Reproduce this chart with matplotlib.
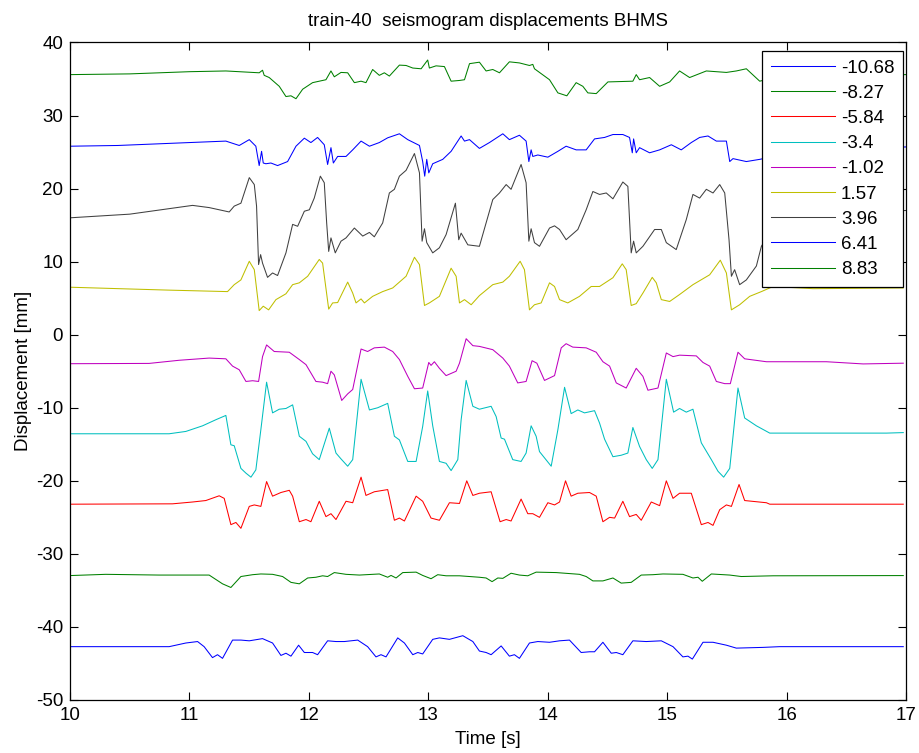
import matplotlib
matplotlib.use("Agg")
import matplotlib.pyplot as plt

plt.rcParams["font.family"] = ["Liberation Sans", "DejaVu Sans"]
plt.rcParams["axes.unicode_minus"] = False

# station positions (legend labels) and MATLAB default colour order
labels = ["-10.68", "-8.27", "-5.84", "-3.4", "-1.02", "1.57", "3.96", "6.41", "8.83"]
colors = [(0, 0, 1), (0, 0.5, 0), (1, 0, 0), (0, 0.75, 0.75), (0.75, 0, 0.75),
          (0.75, 0.75, 0), (0.25, 0.25, 0.25), (0, 0, 1), (0, 0.5, 0)]

# trace -10.68 (blue, bottom)
t_n1068 = [10.0, 10.83, 10.97, 11.068, 11.123, 11.193, 11.235, 11.277, 11.361, 11.431, 11.501,
           11.612, 11.696, 11.766, 11.808, 11.85, 11.914, 11.962, 12.031, 12.073, 12.157, 12.227,
           12.297, 12.409, 12.492, 12.562, 12.604, 12.646, 12.744, 12.8, 12.87, 12.912, 12.953,
           13.037, 13.093, 13.177, 13.289, 13.373, 13.428, 13.484, 13.526, 13.61, 13.679, 13.721,
           13.763, 13.847, 13.917, 14.015, 14.099, 14.182, 14.28, 14.35, 14.392, 14.462, 14.532,
           14.574, 14.629, 14.713, 14.825, 14.951, 15.049, 15.132, 15.174, 15.211, 15.3, 15.384,
           15.496, 15.579, 15.803, 15.943, 16.977]
d_n1068 = [-42.7, -42.7, -42.2, -42.0, -42.7, -44.2, -43.8, -44.3, -41.8, -41.8, -41.9,
           -41.6, -42.2, -43.9, -43.6, -44.0, -42.5, -43.5, -43.5, -43.8, -41.9, -42.0,
           -42.0, -41.8, -42.7, -44.1, -43.8, -44.1, -41.5, -42.2, -43.8, -43.5, -43.7,
           -41.7, -41.5, -41.7, -41.2, -42.0, -43.3, -43.5, -43.8, -42.6, -44.0, -43.8,
           -44.3, -42.2, -42.0, -42.1, -41.9, -41.8, -43.5, -43.4, -43.4, -42.1, -43.6,
           -43.5, -43.8, -41.9, -42.0, -41.9, -42.7, -44.1, -44.0, -44.4, -42.1, -42.1,
           -42.5, -42.9, -42.8, -42.7, -42.7]

# trace -8.27 (green)
t_n827 = [10.0, 10.299, 10.746, 11.165, 11.221, 11.277, 11.347, 11.431, 11.529, 11.598, 11.696,
          11.78, 11.85, 11.92, 11.99, 12.059, 12.115, 12.157, 12.213, 12.311, 12.423, 12.59,
          12.66, 12.688, 12.73, 12.786, 12.898, 12.953, 13.023, 13.079, 13.149, 13.261, 13.428,
          13.484, 13.534, 13.582, 13.624, 13.693, 13.763, 13.833, 13.903, 14.071, 14.266, 14.322,
          14.378, 14.462, 14.546, 14.615, 14.699, 14.783, 14.881, 14.965, 15.132, 15.216, 15.258,
          15.294, 15.37, 15.524, 15.621, 15.887, 16.977]
d_n827 = [-32.97, -32.8, -32.9, -32.9, -33.5, -34.1, -34.6, -33.1, -32.85, -32.75, -32.8,
          -33.1, -33.9, -34.1, -33.3, -33.2, -33.0, -33.1, -32.56, -32.8, -32.9, -32.75,
          -33.2, -32.95, -33.3, -32.56, -32.5, -32.95, -33.4, -32.85, -33.0, -33.0, -33.2,
          -33.3, -33.8, -33.3, -33.35, -32.65, -32.9, -33.0, -32.5, -32.56, -32.8, -33.1,
          -33.7, -33.7, -33.3, -34.0, -33.9, -32.9, -32.85, -32.75, -32.8, -33.3, -33.2,
          -33.75, -32.75, -32.9, -33.1, -33.0, -32.97]

# trace -5.84 (red)
t_n584 = [10.0, 10.858, 11.026, 11.137, 11.249, 11.291, 11.347, 11.389, 11.431, 11.501, 11.543,
          11.598, 11.646, 11.696, 11.766, 11.836, 11.864, 11.92, 11.976, 12.017, 12.087, 12.143,
          12.185, 12.227, 12.311, 12.367, 12.437, 12.478, 12.548, 12.66, 12.716, 12.758, 12.8,
          12.898, 12.953, 13.023, 13.093, 13.177, 13.261, 13.322, 13.373, 13.428, 13.526, 13.601,
          13.652, 13.693, 13.777, 13.833, 13.875, 13.931, 14.001, 14.057, 14.099, 14.149, 14.196,
          14.252, 14.35, 14.406, 14.462, 14.518, 14.56, 14.629, 14.685, 14.741, 14.783, 14.867,
          14.937, 14.993, 15.049, 15.104, 15.202, 15.286, 15.342, 15.384, 15.44, 15.496, 15.538,
          15.602, 15.649, 15.831, 15.859, 16.977]
d_n584 = [-23.2, -23.15, -22.9, -22.7, -22.05, -22.4, -26.0, -25.7, -26.5, -23.5, -23.3,
          -23.5, -20.1, -22.1, -21.6, -21.3, -22.1, -25.6, -25.3, -25.6, -22.8, -24.9,
          -24.5, -25.3, -22.8, -23.0, -19.5, -22.0, -21.5, -21.2, -25.4, -25.1, -25.5,
          -22.1, -22.8, -25.1, -25.4, -23.0, -23.1, -20.0, -22.0, -21.7, -21.5, -25.6,
          -25.3, -25.5, -22.5, -24.5, -24.5, -25.0, -23.0, -23.3, -22.9, -20.0, -22.1,
          -21.7, -21.6, -22.1, -25.6, -25.0, -25.1, -22.8, -24.9, -24.6, -25.4, -22.9,
          -23.4, -20.0, -22.4, -21.7, -21.7, -26.0, -25.7, -26.1, -23.95, -23.3, -23.5,
          -20.5, -22.7, -23.0, -23.2, -23.2]

# trace -3.4 (cyan)
t_n340 = [10.0, 10.83, 10.97, 11.11, 11.221, 11.305, 11.347, 11.375, 11.431, 11.473, 11.515,
          11.556, 11.598, 11.646, 11.696, 11.752, 11.808, 11.864, 11.92, 11.976, 12.031, 12.087,
          12.171, 12.227, 12.269, 12.325, 12.367, 12.437, 12.507, 12.576, 12.66, 12.716, 12.758,
          12.828, 12.898, 12.953, 12.995, 13.037, 13.093, 13.149, 13.191, 13.247, 13.275, 13.317,
          13.373, 13.428, 13.526, 13.568, 13.61, 13.638, 13.707, 13.777, 13.819, 13.861, 13.903,
          13.931, 14.029, 14.085, 14.141, 14.196, 14.252, 14.308, 14.392, 14.434, 14.476, 14.546,
          14.615, 14.671, 14.713, 14.769, 14.825, 14.875, 14.923, 14.993, 15.054, 15.104, 15.16,
          15.216, 15.286, 15.37, 15.426, 15.473, 15.524, 15.593, 15.649, 15.747, 15.859, 16.837,
          16.977]
d_n340 = [-13.56, -13.56, -13.24, -12.47, -11.64, -11.05, -15.07, -15.2, -18.3, -18.95, -19.5,
          -18.5, -13.0, -6.5, -10.7, -10.2, -10.1, -9.6, -13.9, -14.6, -16.3, -17.1,
          -12.8, -16.2, -17.0, -18.0, -17.1, -6.1, -10.3, -10.0, -9.4, -13.9, -14.4,
          -17.35, -17.35, -12.56, -7.7, -12.47, -17.35, -17.6, -18.6, -17.1, -11.64, -6.26,
          -9.8, -10.2, -9.8, -11.2, -14.15, -14.3, -17.1, -17.35, -16.2, -12.47, -13.9,
          -16.0, -18.0, -13.0, -7.2, -10.8, -10.3, -10.7, -10.4, -12.1, -14.3, -16.7,
          -16.5, -16.2, -12.7, -15.3, -17.1, -18.3, -17.1, -6.1, -10.6, -10.1, -10.6,
          -10.2, -14.8, -17.1, -18.7, -19.5, -18.3, -7.3, -11.4, -12.47, -13.47, -13.47,
          -13.4]

# trace -1.02 (magenta)
t_n102 = [10.0, 10.662, 10.914, 11.165, 11.305, 11.361, 11.417, 11.473, 11.529, 11.579, 11.612,
          11.646, 11.71, 11.836, 11.92, 11.976, 12.059, 12.115, 12.157, 12.185, 12.213, 12.275,
          12.325, 12.367, 12.437, 12.492, 12.548, 12.632, 12.702, 12.758, 12.828, 12.884, 12.953,
          13.004, 13.023, 13.051, 13.093, 13.149, 13.233, 13.261, 13.317, 13.373, 13.428, 13.54,
          13.624, 13.679, 13.749, 13.819, 13.869, 13.909, 13.973, 14.057, 14.113, 14.154, 14.21,
          14.322, 14.406, 14.462, 14.518, 14.574, 14.657, 14.741, 14.797, 14.839, 14.923, 14.993,
          15.049, 15.104, 15.244, 15.3, 15.356, 15.412, 15.482, 15.529, 15.593, 15.649, 15.831,
          16.082, 16.334, 16.641, 16.977]
d_n102 = [-3.97, -3.93, -3.5, -3.2, -3.3, -4.3, -4.8, -6.4, -6.3, -6.4, -3.0,
          -1.4, -2.3, -2.4, -3.4, -4.1, -6.4, -6.5, -6.7, -5.0, -5.5, -9.0,
          -8.1, -7.5, -1.96, -2.3, -1.8, -1.7, -2.3, -3.4, -5.7, -7.4, -7.3,
          -3.8, -4.2, -3.7, -4.6, -5.6, -5.0, -3.9, -0.55, -1.5, -1.6, -2.05,
          -3.2, -4.3, -6.6, -6.4, -3.56, -3.9, -6.26, -5.6, -1.8, -1.23, -1.7,
          -1.8, -2.4, -3.7, -4.3, -6.6, -7.3, -4.6, -5.7, -7.6, -7.3, -2.5,
          -3.0, -2.8, -2.9, -3.8, -4.3, -6.4, -6.7, -6.7, -2.4, -3.3, -3.7,
          -3.7, -3.7, -4.0, -3.9]

# trace 1.57 (yellow)
t_p157 = [10.0, 10.411, 10.83, 11.319, 11.375, 11.431, 11.501, 11.543, 11.584, 11.618, 11.663,
          11.724, 11.808, 11.864, 11.92, 11.99, 12.087, 12.115, 12.166, 12.199, 12.241, 12.325,
          12.367, 12.395, 12.437, 12.465, 12.534, 12.618, 12.702, 12.814, 12.884, 12.926, 12.968,
          13.009, 13.093, 13.191, 13.233, 13.261, 13.303, 13.359, 13.428, 13.54, 13.624, 13.679,
          13.769, 13.805, 13.847, 13.889, 13.945, 14.015, 14.057, 14.099, 14.168, 14.266, 14.364,
          14.434, 14.546, 14.624, 14.657, 14.699, 14.741, 14.797, 14.875, 14.909, 14.951, 15.021,
          15.104, 15.216, 15.356, 15.445, 15.496, 15.538, 15.607, 15.691, 15.789, 15.887, 16.222,
          16.977]
d_p157 = [6.5, 6.3, 6.1, 5.9, 6.85, 7.5, 10.05, 8.9, 3.3, 3.9, 3.4,
          4.8, 5.6, 6.85, 7.1, 8.0, 10.3, 9.8, 3.5, 4.35, 4.4, 7.2,
          5.7, 4.35, 4.9, 4.35, 5.25, 5.9, 6.4, 8.0, 10.6, 9.6, 4.0,
          4.35, 5.25, 9.1, 8.0, 4.35, 4.8, 4.1, 5.35, 6.85, 7.2, 8.0,
          10.05, 8.9, 3.4, 4.1, 4.35, 7.1, 6.6, 4.8, 4.35, 5.25, 6.6,
          6.6, 7.8, 9.7, 8.9, 4.0, 4.25, 5.7, 7.85, 7.1, 4.8, 4.55,
          5.5, 6.85, 8.2, 10.2, 8.45, 3.4, 4.1, 5.25, 5.9, 6.6, 6.3,
          6.4]

# trace 3.96 (dark grey)
t_p396 = [10.0, 10.5, 11.026, 11.165, 11.333, 11.375, 11.431, 11.501, 11.543, 11.562, 11.579,
          11.596, 11.612, 11.654, 11.696, 11.738, 11.808, 11.864, 11.906, 11.962, 12.004, 12.045,
          12.096, 12.129, 12.149, 12.166, 12.185, 12.221, 12.269, 12.311, 12.381, 12.451, 12.507,
          12.548, 12.618, 12.674, 12.716, 12.758, 12.814, 12.884, 12.926, 12.948, 12.968, 12.987,
          13.037, 13.093, 13.149, 13.227, 13.255, 13.275, 13.331, 13.428, 13.54, 13.596, 13.652,
          13.693, 13.777, 13.819, 13.842, 13.861, 13.889, 13.931, 14.015, 14.057, 14.099, 14.154,
          14.252, 14.322, 14.378, 14.434, 14.49, 14.546, 14.629, 14.671, 14.699, 14.719, 14.741,
          14.797, 14.895, 14.951, 14.993, 15.076, 15.16, 15.216, 15.272, 15.328, 15.384, 15.44,
          15.482, 15.518, 15.538, 15.565, 15.607, 15.663, 15.747, 15.789, 15.9, 16.2, 16.6, 17.0]
d_p396 = [16.0, 16.5, 17.7, 17.4, 16.8, 17.6, 18.0, 21.5, 20.55, 17.6, 9.6,
          10.96, 9.8, 7.85, 8.45, 8.1, 11.2, 15.1, 14.84, 16.9, 17.1, 18.7,
          21.7, 20.8, 15.3, 11.4, 13.25, 11.2, 12.8, 13.25, 14.6, 13.5, 14.0,
          13.4, 15.3, 19.4, 19.9, 21.7, 22.5, 24.8, 22.15, 12.8, 14.5, 12.6,
          11.2, 11.9, 13.7, 18.0, 13.0, 13.9, 12.3, 12.1, 18.5, 19.4, 20.55,
          19.9, 23.3, 20.8, 12.8, 14.5, 12.6, 12.1, 14.6, 14.9, 14.4, 13.0,
          14.4, 17.1, 19.6, 19.2, 19.4, 18.6, 20.9, 20.3, 11.2, 12.8, 11.2,
          12.1, 14.4, 14.4, 12.6, 11.65, 15.75, 19.2, 18.7, 19.9, 19.4, 20.55,
          19.4, 13.0, 8.0, 8.9, 6.85, 7.5, 9.4, 12.1, 15.0, 16.2, 16.8, 17.0]

# trace 6.41 (blue)
t_p641 = [10.0, 10.4, 11.0, 11.305, 11.417, 11.501, 11.556, 11.584, 11.604, 11.618, 11.64,
          11.682, 11.738, 11.822, 11.892, 11.962, 12.017, 12.073, 12.129, 12.157, 12.185, 12.205,
          12.241, 12.311, 12.367, 12.437, 12.507, 12.59, 12.66, 12.758, 12.828, 12.926, 12.953,
          12.97, 12.987, 13.004, 13.037, 13.121, 13.191, 13.275, 13.303, 13.345, 13.428, 13.512,
          13.624, 13.679, 13.763, 13.819, 13.842, 13.861, 13.875, 13.917, 14.001, 14.085, 14.154,
          14.238, 14.322, 14.392, 14.476, 14.546, 14.629, 14.685, 14.708, 14.719, 14.741, 14.769,
          14.853, 14.937, 15.035, 15.118, 15.202, 15.272, 15.342, 15.412, 15.496, 15.524, 15.551,
          15.579, 15.663, 15.775, 15.95, 16.4, 17.0]
d_p641 = [25.8, 25.9, 26.3, 26.5, 25.9, 26.7, 25.8, 23.15, 25.1, 23.5, 23.4,
          23.5, 23.15, 23.7, 25.8, 26.9, 26.3, 27.0, 26.0, 23.3, 25.6, 23.5,
          24.4, 24.4, 25.3, 26.5, 25.8, 26.3, 26.95, 27.5, 26.7, 25.9, 23.7,
          21.7, 24.0, 22.15, 23.4, 24.0, 25.1, 27.2, 26.5, 26.7, 25.5, 26.3,
          27.5, 26.7, 27.3, 26.5, 23.7, 25.3, 24.4, 24.6, 24.3, 25.1, 25.8,
          25.3, 25.3, 26.8, 27.0, 27.4, 27.4, 27.0, 24.9, 26.8, 24.9, 25.6,
          24.9, 25.3, 26.0, 25.3, 26.3, 27.0, 27.2, 26.5, 26.5, 23.7, 24.1,
          24.0, 23.7, 24.0, 24.6, 25.5, 25.7]

# trace 8.83 (green, top)
t_p883 = [10.0, 10.5, 11.0, 11.305, 11.584, 11.612, 11.626, 11.668, 11.752, 11.808, 11.85,
          11.892, 11.948, 12.031, 12.143, 12.185, 12.213, 12.269, 12.325, 12.381, 12.437, 12.478,
          12.534, 12.59, 12.632, 12.674, 12.758, 12.814, 12.87, 12.94, 12.995, 13.009, 13.065,
          13.135, 13.191, 13.261, 13.303, 13.345, 13.428, 13.484, 13.54, 13.596, 13.679, 13.763,
          13.847, 13.875, 13.889, 13.931, 14.015, 14.085, 14.16, 14.238, 14.294, 14.336, 14.406,
          14.504, 14.713, 14.741, 14.769, 14.853, 14.937, 15.021, 15.104, 15.188, 15.328, 15.496,
          15.579, 15.663, 15.775, 15.9, 16.3, 17.0]
d_p883 = [35.6, 35.7, 36.0, 36.1, 35.85, 36.2, 35.5, 35.2, 34.0, 32.6, 32.7,
          32.3, 33.6, 34.5, 34.9, 36.1, 35.3, 35.9, 35.85, 34.5, 34.7, 34.5,
          36.3, 35.5, 35.85, 35.4, 36.9, 36.85, 36.5, 36.4, 37.6, 36.5, 36.8,
          36.7, 34.7, 34.8, 34.9, 37.1, 37.3, 36.1, 36.3, 35.85, 37.35, 37.2,
          36.85, 37.0, 36.4, 35.9, 34.9, 33.1, 32.7, 34.5, 34.0, 33.1, 33.0,
          34.6, 34.7, 35.6, 34.9, 35.2, 34.0, 34.6, 36.1, 35.2, 36.1, 35.9,
          36.1, 36.4, 34.7, 35.2, 35.5, 35.6]

times = [t_n1068, t_n827, t_n584, t_n340, t_n102, t_p157, t_p396, t_p641, t_p883]
disps = [d_n1068, d_n827, d_n584, d_n340, d_n102, d_p157, d_p396, d_p641, d_p883]

fig = plt.figure(figsize=(9.2, 7.53), dpi=100)
ax = fig.add_axes([0.0761, 0.0704, 0.9087, 0.8732])

for t, d, lab, c in zip(times, disps, labels, colors):
    ax.plot(t, d, color=c, linewidth=0.75, label=lab)

ax.set_xlim(10, 17)
ax.set_ylim(-50, 40)
ax.set_xticks(range(10, 18))
ax.set_yticks(range(-50, 41, 10))
ax.tick_params(direction="in", top=True, right=True, length=6, width=0.8,
               labelsize=13.5, pad=5)
for s in ax.spines.values():
    s.set_linewidth(0.9)

ax.set_title("train-40  seismogram displacements BHMS", fontsize=13.5, pad=12)
ax.set_xlabel("Time [s]", fontsize=13.5, labelpad=5)
ax.set_ylabel("Displacement [mm]", fontsize=13.5, labelpad=3)

leg = ax.legend(loc="upper right", bbox_to_anchor=(0.9964, 0.987), borderaxespad=0,
                fontsize=13.5, handlelength=3.4, handletextpad=0.35, labelspacing=0.43,
                borderpad=0.45, fancybox=False, framealpha=1, edgecolor="black")
leg.get_frame().set_linewidth(0.9)

fig.savefig("out.png", dpi=100)
